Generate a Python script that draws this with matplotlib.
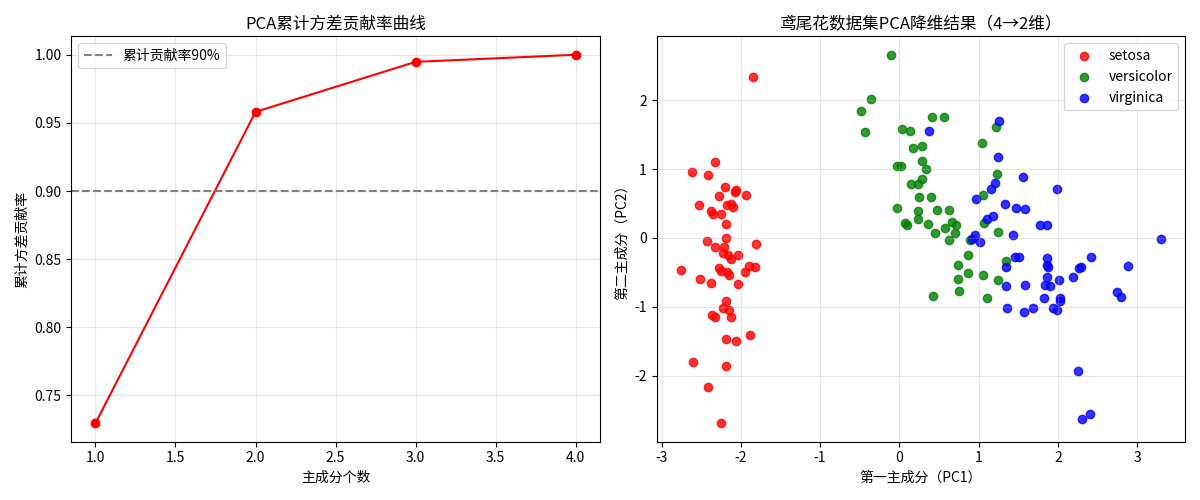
import matplotlib
matplotlib.use("Agg")
import matplotlib.pyplot as plt
import numpy as np

plt.rcParams['font.family'] = ['Noto Sans CJK SC', 'DejaVu Sans']
plt.rcParams['axes.unicode_minus'] = False

n_components = [1, 2, 3, 4]
cumulative_ratio = [0.7296, 0.9581, 0.9948, 1.0]
threshold = 0.90

setosa_pc1 = [-1.85, -2.32, -2.62, -2.42, -2.20, -2.06, -2.07, -1.94, -2.28, -2.53,
              -2.38, -2.35, -2.25, -2.13, -2.17, -2.10, -2.19, -2.19, -2.43, -1.81,
              -2.32, -2.21, -2.22, -2.16, -2.13, -2.03, -2.76, -2.27, -2.25, -2.17,
              -2.15, -1.95, -1.90, -1.82, -2.51, -2.38, -2.03, -2.19, -2.23, -2.15,
              -2.37, -2.33, -2.13, -2.19, -2.06, -1.89, -2.60, -2.19, -2.42, -2.25]
setosa_pc2 = [2.34, 1.11, 0.96, 0.91, 0.74, 0.70, 0.67, 0.62, 0.61, 0.48,
              0.39, 0.35, 0.35, 0.50, 0.48, 0.45, 0.20, 0.00, -0.05, -0.09,
              -0.13, -0.13, -0.22, -0.25, -0.31, -0.25, -0.47, -0.43, -0.48, -0.49,
              -0.53, -0.49, -0.40, -0.42, -0.60, -0.65, -0.67, -0.92, -1.01, -1.04,
              -1.12, -1.14, -1.15, -1.47, -1.49, -1.41, -1.80, -1.86, -2.16, -2.69]

versicolor_pc1 = [-0.11, -0.36, -0.49, -0.44, 0.41, 0.56, 0.03, 0.13, 0.17, 0.29,
                  0.28, 0.33, -0.03, 0.02, 0.29, 0.24, 0.15, 0.25, 0.40, -0.03,
                  0.23, 0.23, 0.47, 0.63, 0.07, 0.10, 0.36, 0.45, 0.57, 0.66,
                  0.72, 0.70, 1.04, 1.22, 1.23, 1.06, 1.07, 1.25, 0.62, 0.87,
                  0.74, 0.87, 1.05, 0.74, 0.75, 0.43, 1.10, 1.24, 1.35, 0.89]
versicolor_pc2 = [2.66, 2.02, 1.85, 1.54, 1.76, 1.76, 1.58, 1.56, 1.30, 1.33,
                  1.12, 1.00, 1.05, 1.04, 0.85, 0.78, 0.79, 0.60, 0.59, 0.44,
                  0.39, 0.28, 0.41, 0.41, 0.22, 0.19, 0.20, 0.07, 0.15, 0.23,
                  0.19, 0.07, 1.38, 1.61, 0.93, 0.63, 0.22, 0.09, -0.03, -0.25,
                  -0.39, -0.51, -0.53, -0.59, -0.77, -0.84, -0.87, -0.61, -0.33, -0.03]

virginica_pc1 = [0.37, 1.26, 1.25, 1.20, 1.15, 0.97, 1.33, 1.18, 1.11, 0.96,
                 0.92, 1.02, 1.34, 1.35, 1.36, 1.56, 1.99, 1.47, 1.59, 1.43,
                 1.77, 1.86, 1.46, 1.51, 1.58, 1.86, 1.86, 1.88, 1.86, 1.84,
                 1.90, 2.01, 2.19, 2.26, 3.30, 2.42, 2.29, 2.88, 1.83, 2.03,
                 2.03, 1.94, 1.99, 2.74, 2.79, 1.57, 1.69, 2.25, 2.41, 2.30]
virginica_pc2 = [1.56, 1.70, 1.17, 0.80, 0.71, 0.57, 0.49, 0.32, 0.28, 0.04,
                 -0.01, -0.06, -0.42, -0.69, -1.01, 0.89, 0.71, 0.44, 0.42, 0.04,
                 0.19, 0.19, -0.27, -0.27, -0.68, -0.29, -0.39, -0.42, -0.57, -0.68,
                 -0.70, -0.61, -0.57, -0.43, -0.01, -0.27, -0.42, -0.40, -0.87, -0.87,
                 -0.92, -1.01, -1.05, -0.79, -0.85, -1.07, -1.01, -1.93, -2.56, -2.63]

species = ['setosa', 'versicolor', 'virginica']
colors = ['red', 'green', 'blue']
pc1_data = [setosa_pc1, versicolor_pc1, virginica_pc1]
pc2_data = [setosa_pc2, versicolor_pc2, virginica_pc2]

fig, (ax1, ax2) = plt.subplots(1, 2, figsize=(12, 5), dpi=100)

ax1.plot(n_components, cumulative_ratio, 'ro-')
ax1.axhline(y=threshold, color='gray', linestyle='--', label='累计贡献率90%')
ax1.set_xlabel('主成分个数')
ax1.set_ylabel('累计方差贡献率')
ax1.set_title('PCA累计方差贡献率曲线')
ax1.legend(loc='upper left')
ax1.grid(True, alpha=0.3)

for name, c, xs, ys in zip(species, colors, pc1_data, pc2_data):
    ax2.scatter(xs, ys, c=c, label=name, alpha=0.8)
ax2.set_xlabel('第一主成分（PC1）')
ax2.set_ylabel('第二主成分（PC2）')
ax2.set_title('鸢尾花数据集PCA降维结果（4→2维）')
ax2.legend(loc='upper right')
ax2.grid(True, alpha=0.3)

plt.tight_layout()
plt.savefig('out.png')
